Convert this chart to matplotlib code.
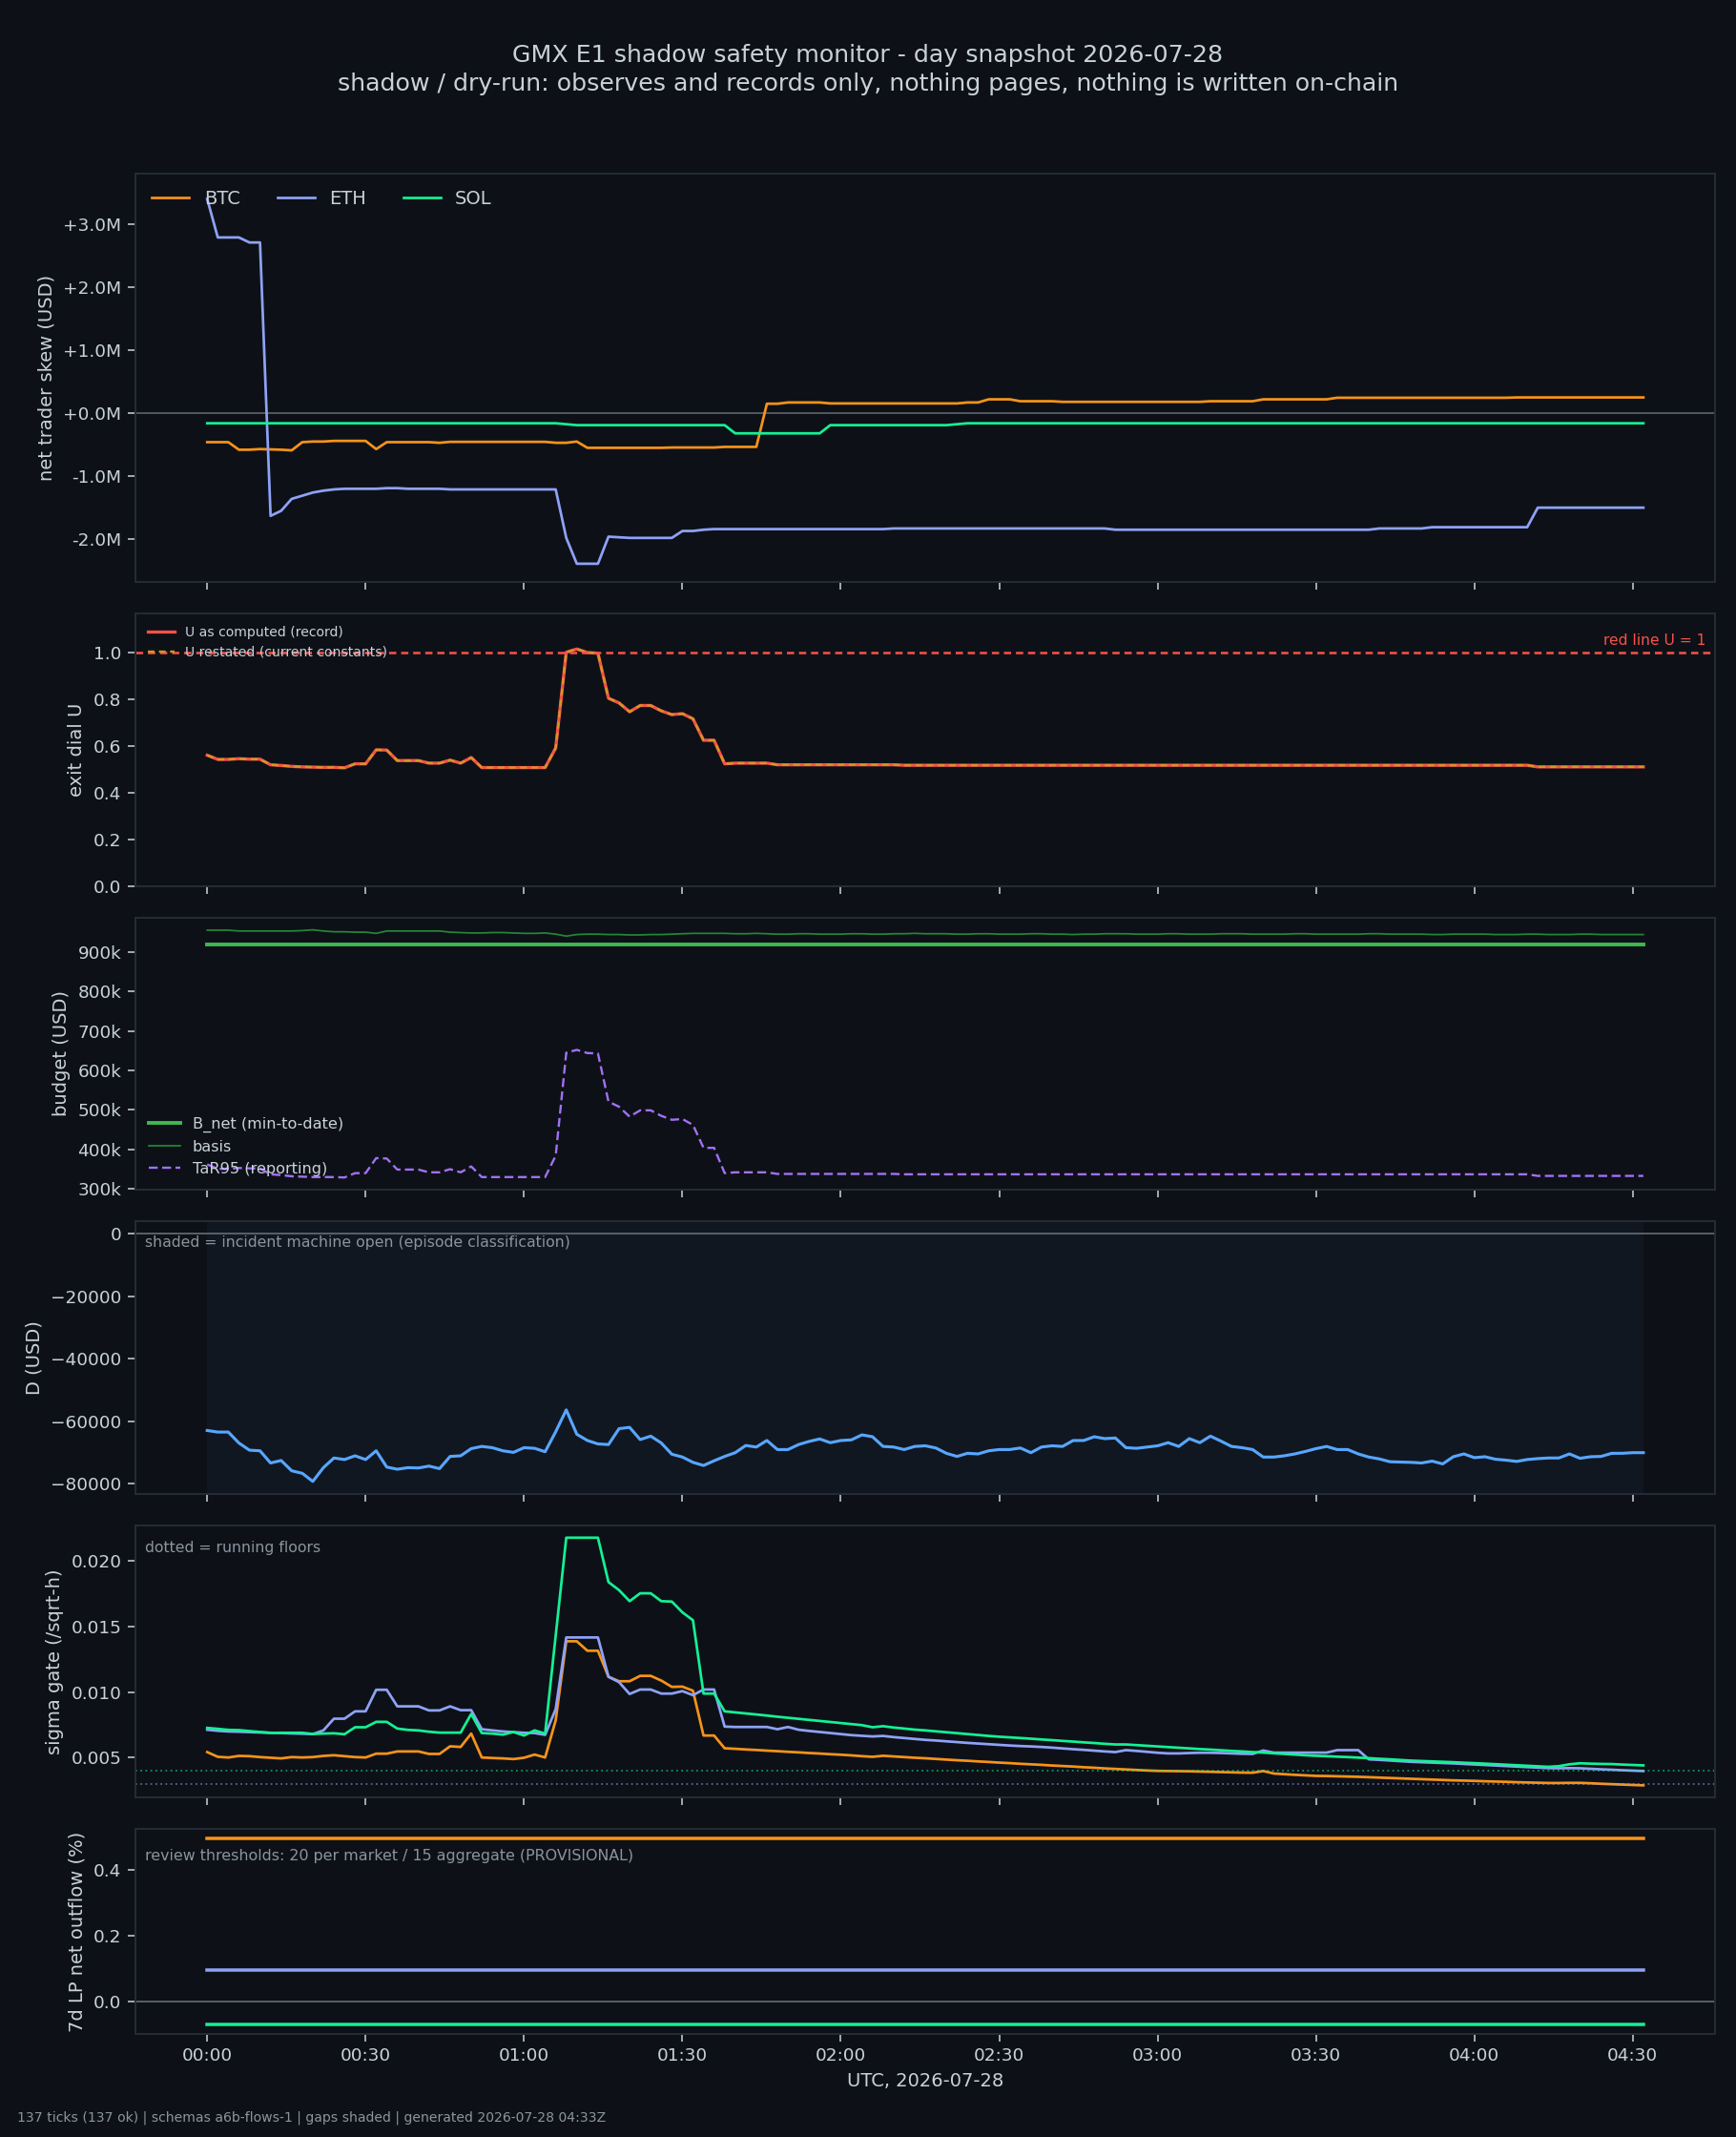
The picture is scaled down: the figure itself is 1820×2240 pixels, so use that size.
import numpy as np
import pandas as pd
import matplotlib
matplotlib.use("Agg")
import matplotlib.pyplot as plt
import matplotlib.dates as mdates
import matplotlib.transforms as mtransforms
from matplotlib.ticker import FuncFormatter

# ---------------- data ----------------
times = pd.date_range("2026-07-28 00:00", periods=137, freq="2min")

skew_btc_m = [
    -0.46, -0.46, -0.46, -0.58, -0.58, -0.57, -0.575, -0.58, -0.59, -0.46,
    -0.45, -0.45, -0.44, -0.44, -0.44, -0.44, -0.57, -0.46, -0.46, -0.46,
    -0.46, -0.46, -0.47, -0.455, -0.455, -0.455, -0.455, -0.455, -0.455, -0.455,
    -0.455, -0.455, -0.455, -0.47, -0.47, -0.45, -0.55, -0.55, -0.55, -0.55,
    -0.55, -0.55, -0.55, -0.55, -0.545, -0.545, -0.545, -0.545, -0.545, -0.535,
    -0.535, -0.535, -0.535, 0.15, 0.15, 0.17, 0.17, 0.17, 0.17, 0.155,
    0.155, 0.155, 0.155, 0.155, 0.155, 0.155, 0.155, 0.155, 0.155, 0.155,
    0.155, 0.155, 0.17, 0.17, 0.22, 0.22, 0.22, 0.19, 0.19, 0.19,
    0.19, 0.18, 0.18, 0.18, 0.18, 0.18, 0.18, 0.18, 0.18, 0.18,
    0.18, 0.18, 0.18, 0.18, 0.18, 0.19, 0.19, 0.19, 0.19, 0.19,
    0.22, 0.22, 0.22, 0.22, 0.22, 0.22, 0.22, 0.245, 0.245, 0.245,
    0.245, 0.245, 0.245, 0.245, 0.245, 0.245, 0.245, 0.245, 0.245, 0.245,
    0.245, 0.245, 0.245, 0.245, 0.25, 0.25, 0.25, 0.25, 0.25, 0.25,
    0.25, 0.25, 0.25, 0.25, 0.25, 0.25, 0.25,
]
skew_eth_m = [
    3.40, 2.79, 2.79, 2.79, 2.71, 2.71, -1.63, -1.55, -1.36, -1.31,
    -1.26, -1.23, -1.21, -1.20, -1.20, -1.20, -1.20, -1.19, -1.19, -1.20,
    -1.20, -1.20, -1.20, -1.21, -1.21, -1.21, -1.21, -1.21, -1.21, -1.21,
    -1.21, -1.21, -1.21, -1.21, -1.98, -2.39, -2.39, -2.39, -1.96, -1.97,
    -1.98, -1.98, -1.98, -1.98, -1.98, -1.87, -1.87, -1.85, -1.84, -1.84,
    -1.84, -1.84, -1.84, -1.84, -1.84, -1.84, -1.84, -1.84, -1.84, -1.84,
    -1.84, -1.84, -1.84, -1.84, -1.84, -1.83, -1.83, -1.83, -1.83, -1.83,
    -1.83, -1.83, -1.83, -1.83, -1.83, -1.83, -1.83, -1.83, -1.83, -1.83,
    -1.83, -1.83, -1.83, -1.83, -1.83, -1.83, -1.85, -1.85, -1.85, -1.85,
    -1.85, -1.85, -1.85, -1.85, -1.85, -1.85, -1.85, -1.85, -1.85, -1.85,
    -1.85, -1.85, -1.85, -1.85, -1.85, -1.85, -1.85, -1.85, -1.85, -1.85,
    -1.85, -1.83, -1.83, -1.83, -1.83, -1.83, -1.81, -1.81, -1.81, -1.81,
    -1.81, -1.81, -1.81, -1.81, -1.81, -1.81, -1.50, -1.50, -1.50, -1.50,
    -1.50, -1.50, -1.50, -1.50, -1.50, -1.50, -1.50,
]
skew_sol_m = [
    -0.16, -0.16, -0.16, -0.16, -0.16, -0.16, -0.16, -0.16, -0.16, -0.16,
    -0.16, -0.16, -0.16, -0.16, -0.16, -0.16, -0.16, -0.16, -0.16, -0.16,
    -0.16, -0.16, -0.16, -0.16, -0.16, -0.16, -0.16, -0.16, -0.16, -0.16,
    -0.16, -0.16, -0.16, -0.16, -0.175, -0.19, -0.19, -0.19, -0.19, -0.19,
    -0.19, -0.19, -0.19, -0.19, -0.19, -0.19, -0.19, -0.19, -0.19, -0.19,
    -0.32, -0.32, -0.32, -0.32, -0.32, -0.32, -0.32, -0.32, -0.32, -0.19,
    -0.19, -0.19, -0.19, -0.19, -0.19, -0.19, -0.19, -0.19, -0.19, -0.19,
    -0.19, -0.175, -0.16, -0.16, -0.16, -0.16, -0.16, -0.16, -0.16, -0.16,
    -0.16, -0.16, -0.16, -0.16, -0.16, -0.16, -0.16, -0.16, -0.16, -0.16,
    -0.16, -0.16, -0.16, -0.16, -0.16, -0.16, -0.16, -0.16, -0.16, -0.16,
    -0.16, -0.16, -0.16, -0.16, -0.16, -0.16, -0.16, -0.16, -0.16, -0.16,
    -0.16, -0.16, -0.16, -0.16, -0.16, -0.16, -0.16, -0.16, -0.16, -0.16,
    -0.16, -0.16, -0.16, -0.16, -0.16, -0.16, -0.16, -0.16, -0.16, -0.16,
    -0.16, -0.16, -0.16, -0.16, -0.16, -0.16, -0.16,
]

u_dial = [
    0.560, 0.542, 0.542, 0.545, 0.543, 0.543, 0.519, 0.516, 0.512, 0.510,
    0.509, 0.508, 0.508, 0.506, 0.523, 0.523, 0.583, 0.582, 0.537, 0.537,
    0.537, 0.526, 0.526, 0.539, 0.526, 0.550, 0.507, 0.507, 0.507, 0.507,
    0.507, 0.507, 0.507, 0.591, 1.001, 1.015, 1.000, 0.997, 0.804, 0.784,
    0.746, 0.773, 0.773, 0.750, 0.734, 0.738, 0.716, 0.624, 0.624, 0.523,
    0.526, 0.526, 0.526, 0.526, 0.519, 0.519, 0.519, 0.519, 0.519, 0.519,
    0.519, 0.519, 0.519, 0.519, 0.519, 0.519, 0.517, 0.517, 0.517, 0.517,
    0.517, 0.517, 0.517, 0.517, 0.517, 0.517, 0.517, 0.517, 0.517, 0.517,
    0.517, 0.517, 0.517, 0.517, 0.517, 0.517, 0.517, 0.517, 0.517, 0.517,
    0.517, 0.517, 0.517, 0.517, 0.517, 0.517, 0.517, 0.517, 0.517, 0.517,
    0.517, 0.517, 0.517, 0.517, 0.517, 0.517, 0.517, 0.517, 0.517, 0.517,
    0.517, 0.517, 0.517, 0.517, 0.517, 0.517, 0.517, 0.517, 0.517, 0.517,
    0.517, 0.517, 0.517, 0.517, 0.517, 0.517, 0.510, 0.510, 0.510, 0.510,
    0.510, 0.510, 0.510, 0.510, 0.510, 0.510, 0.510,
]

b_net_k = [920.0] * 137
basis_k = [
    955, 955, 955, 953, 953, 953, 953, 953, 953, 954,
    956, 953, 951, 951, 950, 950, 947, 953, 953, 953,
    953, 953, 953, 950, 949, 948, 948, 949, 949, 948,
    947, 947, 948, 945, 940, 944, 945, 945, 944, 944,
    943, 943, 944, 944, 945, 946, 947, 947, 947, 947,
    946, 946, 947, 946, 945, 945, 946, 946, 945, 945,
    945, 946, 946, 945, 945, 946, 946, 947, 946, 946,
    946, 945, 945, 946, 946, 945, 945, 945, 946, 946,
    945, 945, 944, 945, 945, 946, 946, 946, 945, 945,
    945, 946, 946, 945, 945, 945, 946, 946, 946, 945,
    945, 945, 945, 946, 946, 945, 945, 945, 945, 945,
    946, 946, 945, 945, 945, 945, 944, 944, 945, 945,
    945, 945, 944, 944, 944, 945, 945, 944, 944, 944,
    945, 945, 944, 944, 944, 944, 944,
]
tar95_k = [
    362, 351, 351, 353, 352, 352, 337, 335, 332, 331,
    330, 330, 330, 329, 340, 340, 378, 377, 349, 349,
    349, 342, 342, 350, 342, 357, 330, 330, 330, 330,
    330, 330, 330, 384, 645, 652, 644, 643, 521, 508,
    483, 499, 499, 485, 475, 477, 462, 404, 404, 340,
    342, 342, 342, 342, 338, 338, 338, 338, 338, 338,
    338, 338, 338, 338, 338, 338, 337, 337, 337, 337,
    337, 337, 337, 337, 337, 337, 337, 337, 337, 337,
    337, 337, 337, 337, 337, 337, 337, 337, 337, 337,
    337, 337, 337, 337, 337, 337, 337, 337, 337, 337,
    337, 337, 337, 337, 337, 337, 337, 337, 337, 337,
    337, 337, 337, 337, 337, 337, 337, 337, 337, 337,
    337, 337, 337, 337, 337, 337, 333, 333, 333, 333,
    333, 333, 333, 333, 333, 333, 333,
]

d_usd = [
    -63000, -63500, -63500, -67000, -69300, -69500, -73400, -72600, -75900, -76700,
    -79300, -74900, -71800, -72300, -71100, -72300, -69500, -74700, -75400, -74900,
    -75000, -74400, -75200, -71300, -71100, -68800, -68100, -68500, -69500, -70000,
    -68500, -68700, -69800, -63400, -56400, -64200, -66200, -67300, -67500, -62400,
    -62000, -65900, -64800, -67000, -70600, -71500, -73200, -74200, -72700, -71300,
    -70100, -67800, -68300, -66200, -69100, -69100, -67500, -66500, -65700, -66900,
    -66200, -66000, -64400, -65000, -68100, -68300, -69100, -68100, -67900, -68600,
    -70300, -71300, -70300, -70500, -69500, -69100, -69100, -68600, -70100, -68300,
    -67900, -68100, -66200, -66200, -65000, -65600, -65400, -68500, -68700, -68300,
    -67900, -66900, -68100, -65600, -66900, -64800, -66400, -68100, -68500, -69100,
    -71500, -71500, -71100, -70500, -69700, -68800, -68100, -69100, -69100, -70500,
    -71500, -72100, -73000, -73100, -73200, -73400, -72800, -73700, -71400, -70500,
    -71700, -71400, -72200, -72500, -72900, -72300, -72000, -71800, -71800, -70500,
    -71900, -71400, -71300, -70300, -70300, -70100, -70100,
]

sigma_btc_e3 = [
    5.43, 5.07, 5.02, 5.14, 5.12, 5.05, 5.00, 4.95, 5.05, 5.02,
    5.05, 5.14, 5.19, 5.12, 5.05, 5.02, 5.31, 5.31, 5.48, 5.48,
    5.48, 5.29, 5.29, 5.87, 5.82, 6.84, 5.02, 4.98, 4.95, 4.90,
    5.00, 5.24, 5.02, 7.85, 13.86, 13.86, 13.14, 13.14, 11.16, 10.82,
    10.82, 11.23, 11.23, 10.87, 10.39, 10.41, 10.10, 6.69, 6.69, 5.72,
    5.68, 5.63, 5.59, 5.54, 5.50, 5.45, 5.41, 5.36, 5.32, 5.27,
    5.23, 5.18, 5.12, 5.07, 5.15, 5.10, 5.05, 5.00, 4.96, 4.91,
    4.86, 4.81, 4.77, 4.72, 4.68, 4.63, 4.59, 4.54, 4.50, 4.46,
    4.41, 4.37, 4.33, 4.28, 4.24, 4.19, 4.15, 4.11, 4.07, 4.03,
    4.00, 3.99, 3.98, 3.97, 3.95, 3.93, 3.91, 3.89, 3.87, 3.86,
    3.99, 3.80, 3.75, 3.70, 3.66, 3.62, 3.61, 3.59, 3.57, 3.55,
    3.52, 3.49, 3.46, 3.43, 3.40, 3.37, 3.34, 3.31, 3.28, 3.26,
    3.24, 3.21, 3.19, 3.17, 3.14, 3.12, 3.10, 3.08, 3.08, 3.09,
    3.09, 3.06, 3.02, 2.99, 2.96, 2.93, 2.90,
]
sigma_eth_e3 = [
    7.13, 7.05, 7.00, 6.98, 6.95, 6.92, 6.90, 6.88, 6.85, 6.83,
    6.80, 7.08, 7.97, 7.97, 8.53, 8.53, 10.17, 10.17, 8.91, 8.91,
    8.91, 8.60, 8.60, 8.91, 8.62, 8.62, 7.17, 7.08, 7.00, 6.95,
    6.90, 6.88, 6.74, 8.70, 14.15, 14.15, 14.15, 14.15, 11.16, 10.75,
    9.85, 10.19, 10.19, 9.88, 9.88, 10.07, 9.76, 10.19, 10.19, 7.37,
    7.34, 7.34, 7.34, 7.34, 7.17, 7.34, 7.13, 7.04, 6.96, 6.88,
    6.80, 6.72, 6.67, 6.62, 6.66, 6.57, 6.50, 6.43, 6.36, 6.31,
    6.25, 6.19, 6.13, 6.08, 6.03, 5.98, 5.93, 5.89, 5.86, 5.82,
    5.77, 5.71, 5.65, 5.60, 5.54, 5.48, 5.43, 5.58, 5.52, 5.45,
    5.38, 5.33, 5.33, 5.36, 5.38, 5.38, 5.36, 5.33, 5.30, 5.29,
    5.55, 5.39, 5.39, 5.39, 5.39, 5.39, 5.39, 5.58, 5.58, 5.58,
    4.88, 4.84, 4.79, 4.74, 4.69, 4.66, 4.63, 4.60, 4.57, 4.53,
    4.49, 4.45, 4.41, 4.37, 4.33, 4.29, 4.25, 4.21, 4.20, 4.21,
    4.20, 4.16, 4.12, 4.09, 4.05, 4.02, 3.99,
]
sigma_sol_e3 = [
    7.27, 7.20, 7.12, 7.10, 7.03, 6.96, 6.89, 6.90, 6.90, 6.90,
    6.81, 6.84, 6.86, 6.79, 7.32, 7.32, 7.73, 7.73, 7.22, 7.12,
    7.08, 6.98, 6.91, 6.91, 6.91, 8.33, 6.88, 6.84, 6.76, 6.96,
    6.69, 7.08, 6.84, 14.30, 21.74, 21.74, 21.74, 21.74, 18.36, 17.75,
    16.91, 17.51, 17.51, 16.91, 16.88, 16.06, 15.46, 9.88, 9.88, 8.53,
    8.45, 8.37, 8.29, 8.21, 8.12, 8.04, 7.96, 7.88, 7.80, 7.72,
    7.64, 7.56, 7.48, 7.32, 7.40, 7.30, 7.22, 7.14, 7.08, 7.01,
    6.94, 6.87, 6.80, 6.73, 6.66, 6.60, 6.55, 6.50, 6.45, 6.39,
    6.34, 6.28, 6.23, 6.17, 6.12, 6.06, 6.01, 6.01, 5.96, 5.91,
    5.86, 5.81, 5.76, 5.71, 5.66, 5.62, 5.57, 5.52, 5.48, 5.43,
    5.39, 5.34, 5.29, 5.24, 5.19, 5.15, 5.12, 5.08, 5.05, 5.01,
    4.97, 4.92, 4.88, 4.83, 4.78, 4.75, 4.72, 4.69, 4.66, 4.62,
    4.59, 4.55, 4.51, 4.47, 4.43, 4.39, 4.35, 4.31, 4.36, 4.50,
    4.58, 4.55, 4.53, 4.52, 4.48, 4.45, 4.42,
]
sigma_floor_e3 = {"BTC": 2.0, "ETH": 3.0, "SOL": 4.0}

lp_outflow_pct = {"BTC": 0.497, "ETH": 0.095, "SOL": -0.071}

markets = ["BTC", "ETH", "SOL"]

# ---------------- style ----------------
BG = "#0d1117"
TEXT = "#c9d1d9"
MUTED = "#8b949e"
SPINE = "#262c36"
ZERO = "#5a6068"
C = {"BTC": "#f7931a", "ETH": "#8fa2f7", "SOL": "#14f195"}
RED = "#f85149"
ORANGE = "#d29922"

plt.rcParams.update({
    "font.family": ["DejaVu Sans"],
    "figure.facecolor": BG,
    "axes.facecolor": BG,
    "axes.edgecolor": SPINE,
    "axes.labelcolor": TEXT,
    "xtick.color": TEXT,
    "ytick.color": TEXT,
    "xtick.labelsize": 9.5,
    "ytick.labelsize": 9.5,
    "axes.labelsize": 10,
    "text.color": TEXT,
    "axes.linewidth": 1.0,
})

fig = plt.figure(figsize=(13, 16), dpi=140)
gs = fig.add_gridspec(6, 1, height_ratios=[1.5, 1, 1, 1, 1, 0.75],
                      left=0.078, right=0.988, top=0.9189, bottom=0.0484,
                      hspace=0.111)
axes = [fig.add_subplot(gs[0])]
for k in range(1, 6):
    axes.append(fig.add_subplot(gs[k], sharex=axes[0]))

# panel 1: skew
ax = axes[0]
ax.axhline(0, color=ZERO, lw=0.9)
skews = {"BTC": skew_btc_m, "ETH": skew_eth_m, "SOL": skew_sol_m}
allsk = []
for m in markets:
    v = np.array(skews[m]) * 1e6
    allsk.append(v)
    ax.plot(times, v, color=C[m], lw=1.4, label=m)
allsk = np.concatenate(allsk)
sk_lo, sk_hi = allsk.min(), allsk.max()
ax.set_ylim(sk_lo - 0.05 * (sk_hi - sk_lo), sk_hi * 1.12)
ax.yaxis.set_major_formatter(FuncFormatter(lambda v, p: f"{v/1e6:+.1f}M"))
ax.set_ylabel("net trader skew (USD)")
leg = ax.legend(loc="upper left", ncol=3, fontsize=10, frameon=False,
                columnspacing=2.0)

# panel 2: U
ax = axes[1]
ax.plot(times, u_dial, color=RED, lw=1.7, label="U as computed (record)")
ax.plot(times, u_dial, color=ORANGE, lw=1.2, ls=(0, (3, 2)),
        label="U restated (current constants)")
ax.axhline(1.0, color=RED, lw=1.3, ls=(0, (3, 2)))
ax.set_ylim(0, max(u_dial) * 1.15)
ax.text(0.994, 1.02, "red line U = 1", color=RED, fontsize=8, ha="right",
        va="bottom", transform=mtransforms.blended_transform_factory(ax.transAxes, ax.transData))
ax.set_ylabel("exit dial U")
ax.legend(loc="upper left", fontsize=7.2, frameon=False)

# panel 3: budget
ax = axes[2]
ax.plot(times, np.array(b_net_k) * 1e3, color="#3fb950", lw=2.0, label="B_net (min-to-date)")
ax.plot(times, np.array(basis_k) * 1e3, color="#238636", lw=0.9, label="basis")
ax.plot(times, np.array(tar95_k) * 1e3, color="#a371f7", lw=1.2, ls=(0, (4, 2)),
        label="TaR95 (reporting)")
ax.yaxis.set_major_formatter(FuncFormatter(lambda v, p: f"{v/1e3:.0f}k"))
ax.set_ylabel("budget (USD)")
ax.legend(loc="lower left", fontsize=8.3, frameon=False)

# panel 4: D
ax = axes[3]
ax.axvspan(times[0], times[-1], color="#58a6ff", alpha=0.045, lw=0)
ax.axhline(0, color=ZERO, lw=1.0)
ax.plot(times, d_usd, color="#58a6ff", lw=1.6)
ax.set_ylabel("D (USD)")
ax.text(0.006, 0.948, "shaded = incident machine open (episode classification)",
        transform=ax.transAxes, fontsize=8.1, color=MUTED, va="top", ha="left")

# panel 5: sigma
ax = axes[4]
sig = {"BTC": sigma_btc_e3, "ETH": sigma_eth_e3, "SOL": sigma_sol_e3}
allv = []
for m in markets:
    v = np.array(sig[m]) / 1e3
    allv.append(v)
    ax.plot(times, v, color=C[m], lw=1.4)
allv = np.concatenate(allv)
lo, hi = allv.min(), allv.max()
pad = 0.05 * (hi - lo)
for m in markets:
    ax.axhline(sigma_floor_e3[m] / 1e3, color=C[m], lw=0.9, ls=(0, (1, 2)), alpha=0.6)
ax.set_ylim(lo - pad, hi + pad)
ax.set_ylabel("sigma gate (/sqrt-h)")
ax.text(0.006, 0.942, "dotted = running floors", transform=ax.transAxes,
        fontsize=8.1, color=MUTED, va="top", ha="left")

# panel 6: LP outflow
ax = axes[5]
ax.axhline(0, color=ZERO, lw=1.0)
for m in markets:
    ax.plot(times, [lp_outflow_pct[m]] * len(times), color=C[m], lw=1.8)
ax.set_ylabel("7d LP net outflow (%)")
ax.text(0.006, 0.905, "review thresholds: 20 per market / 15 aggregate (PROVISIONAL)",
        transform=ax.transAxes, fontsize=8.2, color=MUTED, va="top", ha="left")
ax.xaxis.set_major_locator(mdates.MinuteLocator(byminute=[0, 30]))
ax.xaxis.set_major_formatter(mdates.DateFormatter("%H:%M"))
ax.set_xlabel("UTC, 2026-07-28", fontsize=10)

for a in axes:
    for s in a.spines.values():
        s.set_color(SPINE)
    a.tick_params(colors=TEXT, length=4)
for a in axes[:-1]:
    plt.setp(a.get_xticklabels(), visible=False)

for txt in leg.get_texts():
    txt.set_color(TEXT)

fig.text(0.5, 0.9741, "GMX E1 shadow safety monitor - day snapshot 2026-07-28",
         ha="center", va="center", fontsize=13, color=TEXT)
fig.text(0.5, 0.9607, "shadow / dry-run: observes and records only, nothing pages, nothing is written on-chain",
         ha="center", va="center", fontsize=13, color=TEXT)
fig.text(0.0099, 0.0089,
         "137 ticks (137 ok) | schemas a6b-flows-1 | gaps shaded | generated 2026-07-28 04:33Z",
         ha="left", va="center", fontsize=7.2, color=MUTED)

fig.savefig("out.png", dpi=140, facecolor=BG)
